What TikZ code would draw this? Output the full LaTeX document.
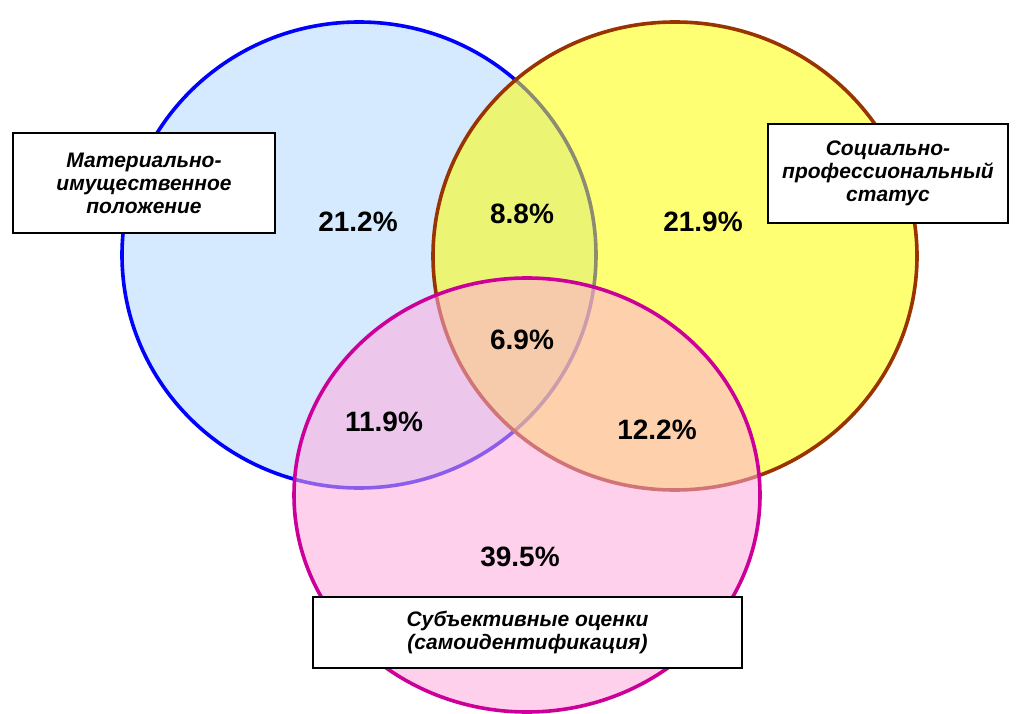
\documentclass[tikz,border=0pt]{standalone}
\usepackage{fontspec}
\setmainfont{Liberation Sans}
\usetikzlibrary{shapes.geometric}

\definecolor{matline}{RGB}{0,0,255}
\definecolor{matfill}{RGB}{180,218,255}
\definecolor{statline}{RGB}{153,51,0}
\definecolor{statfill}{RGB}{255,255,0}
\definecolor{selfline}{RGB}{204,0,153}
\definecolor{selffill}{RGB}{255,170,220}

\begin{document}
\begin{tikzpicture}[x=1pt,y=-1pt,
            set node/.style={ellipse,draw,line width=3.6pt,inner sep=0pt,fill opacity=0.55},
            share/.style={font=\fontsize{28}{32}\selectfont\bfseries},
            label box/.style={rectangle,draw,fill=white,line width=2pt,inner sep=0pt,
              align=center,font=\fontsize{21}{23}\selectfont\bfseries\itshape}]

        \useasboundingbox[fill=white] (0,0) rectangle (1020,714);

        % Define sets
        \node[set node,draw=matline,fill=matfill,minimum width=474,minimum height=466] (mat) at (359,255) {};
        \node[set node,draw=statline,fill=statfill,minimum width=484,minimum height=468] (stat) at (675,256) {};
        \node[set node,draw=selfline,fill=selffill,minimum width=466,minimum height=434] (self) at (527,495) {};

        % Shares
        \node[share] (m) at (358,222) {21.2\%};
        \node[share] (ms) at (522,214) {8.8\%};
        \node[share] (s) at (703,222) {21.9\%};
        \node[share] (msc) at (522,340) {6.9\%};
        \node[share] (mc) at (384,422) {11.9\%};
        \node[share] (sc) at (657,430) {12.2\%};
        \node[share] (c) at (520,557) {39.5\%};

        % Labels
        \node[label box,minimum width=262,minimum height=100] (matlabel) at (144,183)
            {Материально-\\имущественное\\положение};
        \node[label box,minimum width=240,minimum height=99] (statlabel) at (888,173.5)
            {Социально-\\профессиональный\\статус};
        \node[label box,minimum width=429,minimum height=71] (selflabel) at (527.5,632.5)
            {Субъективные оценки\\(самоидентификация)};

        \end{tikzpicture}
\end{document}
